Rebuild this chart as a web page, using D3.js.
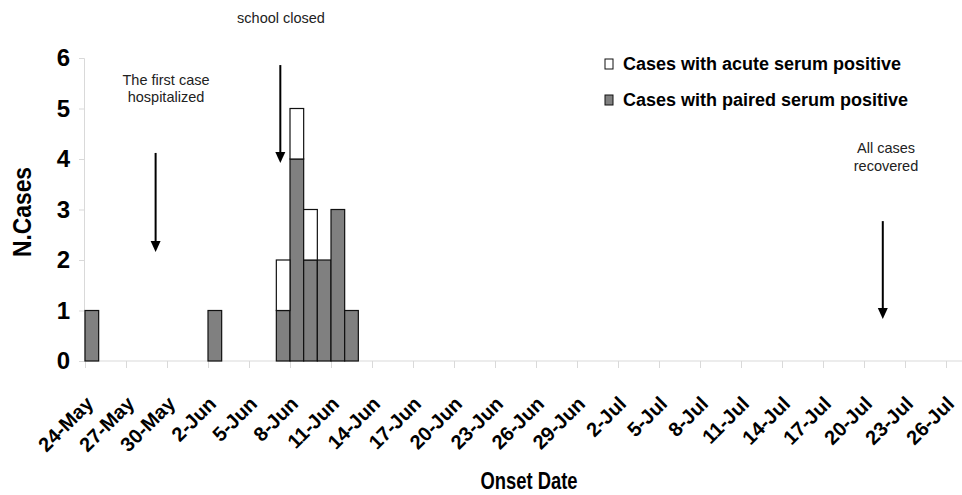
<!DOCTYPE html>
<html>
<head>
<meta charset="utf-8">
<script src="https://cdn.jsdelivr.net/npm/d3@7"></script>
<style>
  body { margin: 0; background: #fff; }
  svg { display: block; font-family: "Liberation Sans", Arial, sans-serif; }
</style>
</head>
<body>
<svg width="962" height="495"></svg>
<script>
// onset days with cases (everything else is zero)
const caseDates = ["2007-05-24", "2007-06-02", "2007-06-07", "2007-06-08", "2007-06-09", "2007-06-10", "2007-06-11", "2007-06-12"];
const pairedPositive = [1, 1, 1, 4, 2, 2, 3, 1];
const acutePositive  = [0, 0, 1, 1, 1, 0, 0, 0];

const seriesNames = ["Cases with acute serum positive", "Cases with paired serum positive"];
const seriesFill = ["#ffffff", "#808080"];

const yTicks = [0, 1, 2, 3, 4, 5, 6];

// arrows: x in days after 24-May, y top / tip in case units
const notes = [
  { lines: ["The first case", "hospitalized"], day: 5.2, top: 4.12, tip: 2.16 },
  { lines: ["school closed"], day: 14.3, top: 5.86, tip: 3.92 },
  { lines: ["All cases", "recovered"], day: 58.4, top: 2.77, tip: 0.83 }
];

const parse = d3.utcParse("%Y-%m-%d");
const start = parse("2007-05-24");
const end = parse("2007-07-26");
const tickDates = d3.utcDay.range(start, d3.utcDay.offset(end, 1), 3);

const svg = d3.select("svg");

const x = d3.scaleUtc().domain([start, end]).range([85, 946]);
const y = d3.scaleLinear().domain([0, 6]).range([361, 58]);
const dayW = x(d3.utcDay.offset(start, 1)) - x(start);

// bars, stacked: paired at bottom, acute on top
const rows = caseDates.map((d, i) => ({ date: parse(d), paired: pairedPositive[i], acute: acutePositive[i] }));
const stack = d3.stack().keys(["paired", "acute"])(rows);

// x axis
const xAxis = svg.append("g")
  .attr("transform", `translate(0,${y(0)})`)
  .call(d3.axisBottom(x).tickValues(tickDates).tickSize(7).tickSizeOuter(0).tickFormat(d3.utcFormat("%-d-%b")));
xAxis.select(".domain").remove();
xAxis.append("line").attr("x1", 84).attr("x2", 962).attr("stroke", "#d9d9d9");
xAxis.selectAll(".tick line").attr("stroke", "#d9d9d9");
xAxis.selectAll(".tick text")
  .attr("font-size", 20)
  .attr("font-weight", "bold")
  .attr("font-family", "Liberation Sans, Arial, sans-serif")
  .attr("fill", "#000")
  .attr("text-anchor", "end")
  .attr("dy", 0)
  .attr("y", 0)
  .attr("transform", "translate(9,44) rotate(-45)");

// y axis
const yAxis = svg.append("g")
  .attr("transform", "translate(84,0)")
  .call(d3.axisLeft(y).tickValues(yTicks).tickSize(5).tickPadding(9).tickFormat(d3.format("d")));
yAxis.select(".domain").attr("stroke", "#d9d9d9");
yAxis.selectAll(".tick line").attr("stroke", "#d9d9d9");
yAxis.selectAll(".tick text")
  .attr("font-size", 24)
  .attr("font-weight", "bold")
  .attr("font-family", "Liberation Sans, Arial, sans-serif")
  .attr("fill", "#000");

svg.append("g")
  .selectAll("g")
  .data(stack)
  .join("g")
  .attr("fill", (s) => s.key === "paired" ? seriesFill[1] : seriesFill[0])
  .selectAll("rect")
  .data((s) => s.filter((d) => d[1] > d[0]))
  .join("rect")
  .attr("x", (d) => x(d.data.date))
  .attr("width", dayW)
  .attr("y", (d) => y(d[1]))
  .attr("height", (d) => y(d[0]) - y(d[1]))
  .attr("stroke", "#111")
  .attr("stroke-width", 1.2);

// axis titles
svg.append("text")
  .attr("transform", "translate(31,212) rotate(-90)")
  .attr("text-anchor", "middle")
  .attr("font-size", 26)
  .attr("font-weight", "bold")
  .attr("textLength", 90)
  .attr("lengthAdjust", "spacingAndGlyphs")
  .text("N.Cases");

svg.append("text")
  .attr("x", 529)
  .attr("y", 489)
  .attr("text-anchor", "middle")
  .attr("font-size", 24)
  .attr("font-weight", "bold")
  .attr("textLength", 97)
  .attr("lengthAdjust", "spacingAndGlyphs")
  .text("Onset Date");

// legend
const legend = svg.append("g")
  .selectAll("g")
  .data(seriesNames)
  .join("g")
  .attr("transform", (d, i) => `translate(605,${59 + i * 36})`);
legend.append("rect")
  .attr("width", 8).attr("height", 10)
  .attr("fill", (d, i) => seriesFill[i])
  .attr("stroke", "#111").attr("stroke-width", 1);
legend.append("text")
  .attr("x", 18).attr("y", 11)
  .attr("font-size", 18)
  .attr("font-weight", "bold")
  .text((d) => d);

// annotations
const textY = [[85, 102], [23], [153, 171]];
const notesG = svg.append("g")
  .selectAll("g")
  .data(notes)
  .join("g");
notesG.append("line")
  .attr("x1", (d) => x(d3.utcHour.offset(start, d.day * 24)))
  .attr("x2", (d) => x(d3.utcHour.offset(start, d.day * 24)))
  .attr("y1", (d) => y(d.top))
  .attr("y2", (d) => y(d.tip) - 8)
  .attr("stroke", "#000")
  .attr("stroke-width", 2);
notesG.append("path")
  .attr("d", (d) => {
    const ax = x(d3.utcHour.offset(start, d.day * 24)), ay = y(d.tip);
    return `M${ax - 5},${ay - 11}L${ax + 5},${ay - 11}L${ax},${ay}Z`;
  })
  .attr("fill", "#000");
notesG.each(function (d, i) {
  const cx = i === 1 ? 281 : i === 0 ? 166 : 886;
  d3.select(this).selectAll("text")
    .data(d.lines)
    .join("text")
    .attr("x", cx)
    .attr("y", (t, j) => textY[i][j])
    .attr("text-anchor", "middle")
    .attr("font-size", 14.5)
    .attr("fill", "#222")
    .text((t) => t);
});
</script>
</body>
</html>
